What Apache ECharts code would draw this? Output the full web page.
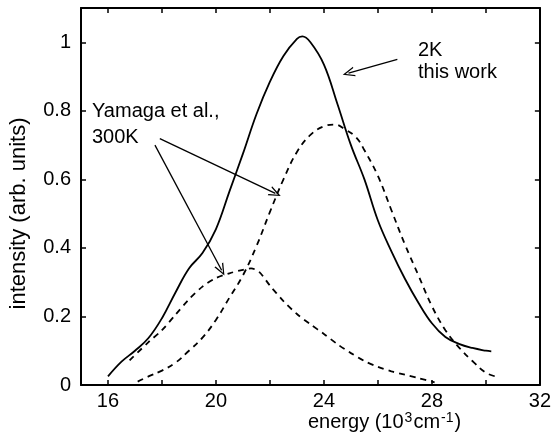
<!DOCTYPE html>
<html>
<head>
<meta charset="utf-8">
<script src="https://cdn.jsdelivr.net/npm/echarts@6/dist/echarts.min.js"></script>
<style>
  html, body { margin: 0; padding: 0; background: #fff; }
  #chart { width: 554px; height: 445px; }
</style>
</head>
<body>
<div id="chart"></div>
<script>
// energy in 10^3 cm^-1, intensity in arb. units
var energy2K = [16.0, 16.5, 17.0, 17.5, 18.0, 18.5, 19.0, 19.5, 20.0, 20.5, 21.0, 21.5, 22.0, 22.5, 23.0, 23.2, 23.5, 24.0, 24.5, 25.0, 25.5, 26.0, 26.5, 27.0, 27.5, 28.0, 28.5, 29.0, 29.5, 30.0, 30.2];
var intensity2K = [0.025, 0.068, 0.10, 0.137, 0.195, 0.27, 0.34, 0.385, 0.455, 0.565, 0.675, 0.79, 0.885, 0.96, 1.01, 1.017, 1.0, 0.935, 0.82, 0.70, 0.60, 0.48, 0.39, 0.31, 0.24, 0.18, 0.14, 0.12, 0.108, 0.10, 0.098];

var energyYamagaA = [16.8, 17.5, 18.0, 18.5, 19.0, 19.5, 20.0, 20.5, 21.0, 21.3, 21.6, 22.0, 22.5, 23.0, 23.5, 24.0, 24.5, 25.0, 25.5, 26.0, 26.5, 27.0, 27.5, 28.1];
var intensityYamagaA = [0.072, 0.125, 0.16, 0.205, 0.25, 0.287, 0.312, 0.326, 0.336, 0.34, 0.33, 0.29, 0.245, 0.207, 0.177, 0.149, 0.119, 0.093, 0.07, 0.053, 0.04, 0.03, 0.02, 0.008];

var energyYamagaB = [17.1, 17.5, 18.0, 18.5, 19.0, 19.5, 20.0, 20.5, 21.0, 21.5, 22.0, 22.5, 23.0, 23.5, 24.0, 24.4, 24.8, 25.2, 25.5, 26.0, 26.5, 27.0, 27.5, 28.0, 28.5, 29.0, 29.5, 30.0, 30.4];
var intensityYamagaB = [0.01, 0.025, 0.042, 0.065, 0.10, 0.138, 0.19, 0.255, 0.32, 0.405, 0.505, 0.6, 0.68, 0.73, 0.755, 0.76, 0.745, 0.722, 0.685, 0.61, 0.51, 0.41, 0.32, 0.23, 0.16, 0.11, 0.07, 0.036, 0.024];

var xTicks = [16, 18, 20, 22, 24, 26, 28, 30, 32];
var xLabels = [16, 20, 24, 28, 32];
var yTicks = [0, 0.2, 0.4, 0.6, 0.8, 1.0];

// arrows: [from, to] in data coords
var arrows2K = [[[26.72, 0.95], [24.91, 0.91]]];
var arrowsYamaga = [[[17.92, 0.719], [22.2, 0.559]], [[17.74, 0.70], [20.21, 0.335]]];

function zip(xs, ys) {
	return xs.map(function(x, i) { return [x, ys[i]]; });
}

var font = 'Liberation Sans';
var arrowHead = 'path://M0,10 L5,0 L10,10 L8.6,10 L5,2.6 L1.4,10 Z';

function arrowData(list) {
	return list.map(function(a) {
		return [{ coord: a[0] }, { coord: a[1] }];
	});
}

function axisBase(pos, showLabel, ticks, labels, min, max) {
	return {
		type: 'value',
		position: pos,
		min: min,
		max: max,
		axisLine: { show: true, onZero: false, lineStyle: { color: '#000', width: 2 } },
		axisTick: { show: true, inside: true, length: 5, customValues: ticks, lineStyle: { color: '#000', width: 1.5 } },
		axisLabel: { show: showLabel, customValues: labels, color: '#000', fontFamily: font, fontSize: 20 },
		splitLine: { show: false }
	};
}

var chart = echarts.init(document.getElementById('chart'));

var xBottom = axisBase('bottom', true, xTicks, xLabels, 15, 32);
xBottom.axisLabel.margin = 6;
var xTop = axisBase('top', false, xTicks, xLabels, 15, 32);
var yLeft = axisBase('left', true, yTicks, yTicks, 0, 1.1);
yLeft.axisLabel.margin = 10;
yLeft.name = 'intensity (arb. units)';
yLeft.nameLocation = 'middle';
yLeft.nameGap = 51;
yLeft.nameTextStyle = { color: '#000', fontFamily: font, fontSize: 22, padding: [0, 34, 0, 0] };
var yRight = axisBase('right', false, yTicks, yTicks, 0, 1.1);

var option = {
	animation: false,
	backgroundColor: '#fff',
	grid: { left: 81, right: 3, top: 8, bottom: 60 },
	title: {
		text: 'energy (10{sup|3}cm{sup|-1})',
		left: 303,
		top: 406,
		textStyle: {
			color: '#000',
			fontFamily: font,
			fontSize: 20,
			fontWeight: 'normal',
			rich: {
				sup: { fontSize: 14, verticalAlign: 'top', padding: [0, 1, 9, 1], color: '#000', fontFamily: font }
			}
		}
	},
	xAxis: [xBottom, xTop],
	yAxis: [yLeft, yRight],
	series: [
		{
			name: '2K this work',
			type: 'line',
			data: zip(energy2K, intensity2K),
			smooth: 0.4,
			showSymbol: false,
			lineStyle: { color: '#000', width: 1.8 },
			markLine: {
				silent: true,
				symbol: ['none', arrowHead],
				symbolSize: [10, 12],
				label: { show: false },
				lineStyle: { color: '#000', width: 1.3, type: 'solid' },
				itemStyle: { color: '#000' },
				data: arrowData(arrows2K.concat(arrowsYamaga))
			}
		},
		{
			name: 'Yamaga et al., 300K (a)',
			type: 'line',
			data: zip(energyYamagaA, intensityYamagaA),
			smooth: 0.3,
			showSymbol: false,
			lineStyle: { color: '#000', width: 1.8, type: [6, 5] }
		},
		{
			name: 'Yamaga et al., 300K (b)',
			type: 'line',
			data: zip(energyYamagaB, intensityYamagaB),
			smooth: 0.4,
			showSymbol: false,
			lineStyle: { color: '#000', width: 1.8, type: [6, 5] }
		}
	],
	graphic: [
		{
			type: 'text',
			left: 418,
			top: 39,
			style: { text: '2K\nthis work', fill: '#000', font: '20px "Liberation Sans"', lineHeight: 22 }
		},
		{
			type: 'text',
			left: 92,
			top: 98,
			style: { text: 'Yamaga et al.,\n300K', fill: '#000', font: '20px "Liberation Sans"', lineHeight: 26 }
		}
	]
};

chart.setOption(option);
</script>
</body>
</html>
